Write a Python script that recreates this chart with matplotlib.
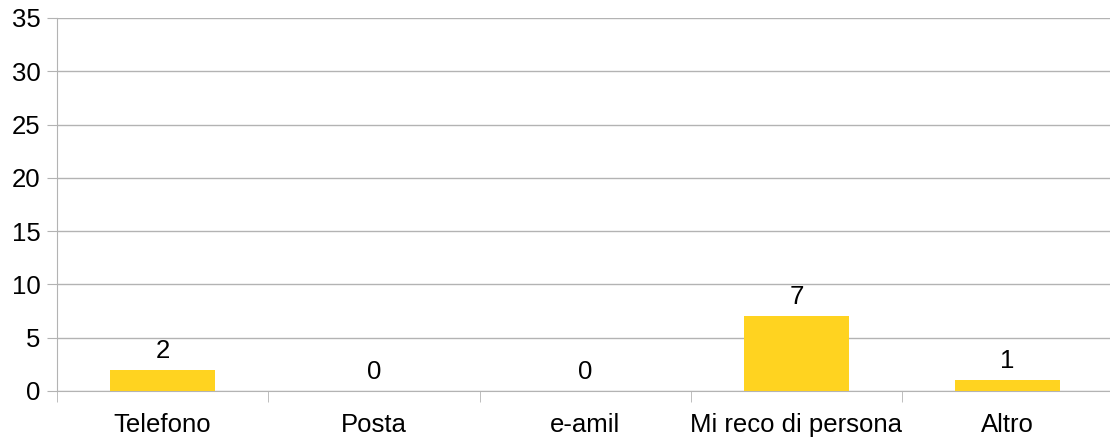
import numpy as np
import matplotlib
matplotlib.use("Agg")
import matplotlib.pyplot as plt

categories = ["Telefono", "Posta", "e-amil", "Mi reco di persona", "Altro"]
values = [2, 0, 0, 7, 1]
y_ticks = [0, 5, 10, 15, 20, 25, 30, 35]

plt.rcParams['font.family'] = ['Liberation Sans', 'DejaVu Sans']
grid_col = '#b3b3b3'
fs = 18.5

fig = plt.figure(figsize=(11.1, 4.4), dpi=100)
ax = fig.add_axes([0.0514, 0.1114, 0.9515, 0.8477])

x = np.arange(len(categories))
bars = ax.bar(x, values, width=0.5, color='#ffd320', zorder=3)
for xi, v in zip(x, values):
    ax.annotate(str(v), (xi, v), xytext=(0, 5), textcoords='offset points',
                ha='center', va='bottom', fontsize=fs, color='black')

ax.set_xlim(-0.5, len(categories) - 0.5)
ax.set_ylim(0, 35)
ax.set_yticks(y_ticks)
ax.set_xticks(x)
ax.set_xticklabels(categories)
ax.set_xticks(np.arange(len(categories) + 1) - 0.5, minor=True)

ax.yaxis.grid(True, color=grid_col, linewidth=1, zorder=0)
for s in ['top', 'right']:
    ax.spines[s].set_visible(False)
ax.spines['left'].set_color(grid_col)
ax.spines['bottom'].set_color(grid_col)

ax.tick_params(axis='y', length=7, color=grid_col, labelsize=fs, pad=5)
ax.tick_params(axis='x', which='major', length=0, labelsize=fs, pad=16)
ax.tick_params(axis='x', which='minor', length=8, color=grid_col)

fig.savefig('out.png', dpi=100)
